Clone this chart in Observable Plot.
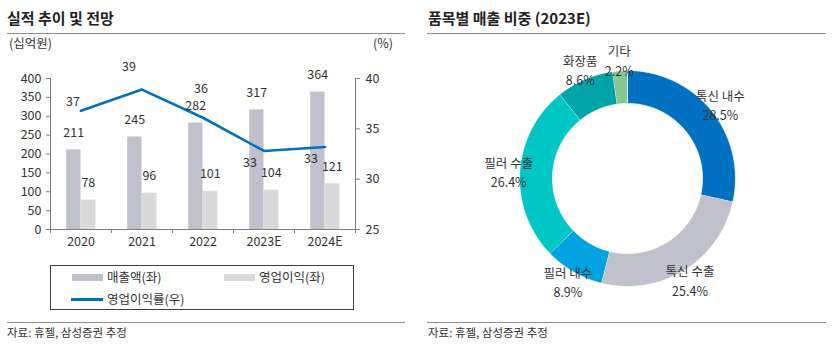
<!DOCTYPE html>
<html><head><meta charset="utf-8">
<script src="https://cdn.jsdelivr.net/npm/d3@7"></script>
<script src="https://cdn.jsdelivr.net/npm/@observablehq/plot@0.6"></script>
<style>
body{margin:0;background:#fff;font-family:"Noto Sans CJK KR","Noto Sans",sans-serif;color:#333;}
#wrap{position:relative;width:836px;height:353px;overflow:hidden;background:#fff;}
.abs{position:absolute;white-space:nowrap;line-height:1;}
.title{font-size:15px;font-weight:bold;color:#222;}
.hr{position:absolute;height:0;border-top:1px solid #8c8c8c;}
.cap{font-size:11.5px;color:#333;}
.unit{font-size:12.5px;color:#333;}
#legend{position:absolute;left:50px;top:265px;width:304px;height:45px;border:1px solid #404040;box-sizing:border-box;}
.lg{position:absolute;font-size:12.5px;line-height:1;white-space:nowrap;color:#333;}
.sw{position:absolute;}
#left svg, #right svg{overflow:visible;max-width:none;}
</style></head>
<body><div id="wrap">
<div class="abs title" style="left:7px;top:10px;">실적 추이 및 전망</div>
<div class="hr" style="left:7px;top:33px;width:398px;"></div>
<div class="abs unit" style="left:9px;top:37px;">(십억원)</div>
<div class="abs unit" style="left:373px;top:37px;">(%)</div>
<div id="left" style="position:absolute;left:0;top:36px;width:418px;height:220px;"></div>
<div id="legend">
  <div class="sw" style="left:21px;top:8px;width:31px;height:7px;background:#C0C1CD;"></div>
  <div class="lg" style="left:56px;top:5px;">매출액(좌)</div>
  <div class="sw" style="left:173px;top:8px;width:31px;height:7px;background:#D9D9D9;"></div>
  <div class="lg" style="left:208px;top:5px;">영업이익(좌)</div>
  <div class="sw" style="left:20px;top:32px;width:32px;height:3px;background:#0070C0;"></div>
  <div class="lg" style="left:56px;top:27px;">영업이익률(우)</div>
</div>
<div class="hr" style="left:7px;top:322px;width:398px;"></div>
<div class="abs cap" style="left:7px;top:327px;">자료: 휴젤, 삼성증권 추정</div>

<div class="abs title" style="left:428px;top:10px;">품목별 매출 비중 (2023E)</div>
<div class="hr" style="left:427px;top:33px;width:399px;"></div>
<div id="right" style="position:absolute;left:418px;top:36px;width:418px;height:284px;"></div>
<div class="hr" style="left:427px;top:322px;width:399px;"></div>
<div class="abs cap" style="left:428px;top:327px;">자료: 휴젤, 삼성증권 추정</div>
</div>
<script>
// ---- data ----
const years = ["2020", "2021", "2022", "2023E", "2024E"];
const sales = [211, 245, 282, 317, 364];
const opProfit = [78, 96, 101, 104, 121];
const opMargin = [36.8, 38.9, 36.1, 32.8, 33.2];
const leftTicks = [0, 50, 100, 150, 200, 250, 300, 350, 400];
const rightTicks = [25, 30, 35, 40];

const segments = ["톡신 내수", "톡신 수출", "필러 내수", "필러 수출", "화장품", "기타"];
const shares = [28.5, 25.4, 8.9, 26.4, 8.6, 2.2];
const segColors = ["#0070C0", "#C0C1CD", "#00A3E0", "#00C6C6", "#00A3A8", "#84C793"];

const font = '"Noto Sans CJK KR","Noto Sans",sans-serif';

// ---- left: bars + line (dual axis) ----
const rMin = rightTicks[0], rMax = rightTicks[rightTicks.length - 1];
const lMax = leftTicks[leftTicks.length - 1];
const toLeft = v => (v - rMin) * lMax / (rMax - rMin);
const fromLeft = v => v * (rMax - rMin) / lMax + rMin;
const rows = years.map((y, i) => ({i, year: y, sales: sales[i], op: opProfit[i], margin: opMargin[i]}));
const idx = d3.range(years.length);
const bounds = d3.range(-0.5, years.length, 1);
const axisColor = "#7f7f7f";

const left = Plot.plot({
  width: 418, height: 220,
  marginLeft: 50, marginRight: 63, marginTop: 42, marginBottom: 27,
  x: {domain: [-0.5, years.length - 0.5]},
  y: {domain: [0, lMax]},
  style: {fontFamily: font, fontSize: "12.5px", color: "#333", background: "transparent"},
  marks: [
    Plot.rectY(rows, {x1: d => d.i - 0.235, x2: d => d.i, y: "sales", fill: "#C0C1CD"}),
    Plot.rectY(rows, {x1: d => d.i, x2: d => d.i + 0.245, y: "op", fill: "#D9D9D9"}),
    Plot.ruleX([-0.5], {stroke: axisColor}),
    Plot.ruleX([years.length - 0.5], {stroke: axisColor}),
    Plot.ruleY([0], {stroke: axisColor}),
    Plot.axisY(leftTicks, {anchor: "left", tickSize: 4, tickPadding: 5, label: null, stroke: axisColor}),
    Plot.axisY(rightTicks.map(toLeft), {anchor: "right", tickSize: 4, tickPadding: 6, label: null,
      stroke: axisColor, tickFormat: d => Math.round(fromLeft(d))}),
    Plot.axisX(bounds, {tickSize: 4, tickFormat: () => "", label: null, stroke: axisColor}),
    Plot.axisX(idx, {tickSize: 0, tickPadding: 8, label: null, tickFormat: i => years[i]}),
    Plot.line(rows, {x: "i", y: d => toLeft(d.margin), stroke: "#0070C0", strokeWidth: 2.6}),
    Plot.text(rows, {x: d => d.i - 0.12, y: "sales", text: d => String(d.sales), dy: -17, fill: "#333"}),
    Plot.text(rows, {x: d => d.i + 0.12, y: "op", text: d => String(d.op), dy: -17, fill: "#333"}),
    Plot.text(rows.filter(d => d.i === 0), {x: "i", y: d => toLeft(d.margin), text: d => d.margin.toFixed(0), dx: -8, dy: -9, fill: "#333"}),
    Plot.text(rows.filter(d => d.i === 1), {x: "i", y: d => toLeft(d.margin), text: d => d.margin.toFixed(0), dx: -13, dy: -23, fill: "#333"}),
    Plot.text(rows.filter(d => d.i === 2), {x: "i", y: d => toLeft(d.margin), text: d => d.margin.toFixed(0), dx: -2, dy: -29, fill: "#333"}),
    Plot.text(rows.filter(d => d.i >= 3), {x: "i", y: d => toLeft(d.margin), text: d => d.margin.toFixed(0), dx: -14, dy: 12, fill: "#333"})
  ]
});
document.getElementById("left").appendChild(left);

// ---- right: donut ----
const segRows = segments.map((s, i) => ({seg: s, share: shares[i]}));
const arcs = d3.pie().sort(null).value(d => d.share)(segRows);
const R = 108, r0 = 75, LR = 119;
const poly = arcs.flatMap(p => {
  const n = Math.max(2, Math.ceil((p.endAngle - p.startAngle) / 0.015));
  const pts = [];
  for (let k = 0; k <= n; k++) {
    const a = p.startAngle + (p.endAngle - p.startAngle) * k / n;
    pts.push({seg: p.data.seg, x: R * Math.sin(a), y: R * Math.cos(a)});
  }
  for (let k = n; k >= 0; k--) {
    const a = p.startAngle + (p.endAngle - p.startAngle) * k / n;
    pts.push({seg: p.data.seg, x: r0 * Math.sin(a), y: r0 * Math.cos(a)});
  }
  return pts;
});
const mid = p => (p.startAngle + p.endAngle) / 2;
const right = Plot.plot({
  width: 418, height: 284, margin: 0,
  x: {domain: [-209, 209], axis: null},
  y: {domain: [-142, 142], axis: null},
  color: {domain: segments, range: segColors},
  style: {fontFamily: font, fontSize: "12.5px", color: "#333", background: "transparent"},
  marks: [
    Plot.line(poly, {x: "x", y: "y", z: "seg", fill: "seg", stroke: "#fff", strokeWidth: 0.8}),
    Plot.text(arcs, {x: p => LR * Math.sin(mid(p)), y: p => LR * Math.cos(mid(p)),
      text: p => `${p.data.seg}\n${p.data.share.toFixed(1)}%`, lineHeight: 1.55, fill: "#333"})
  ]
});
document.getElementById("right").appendChild(right);
</script>
</body></html>
